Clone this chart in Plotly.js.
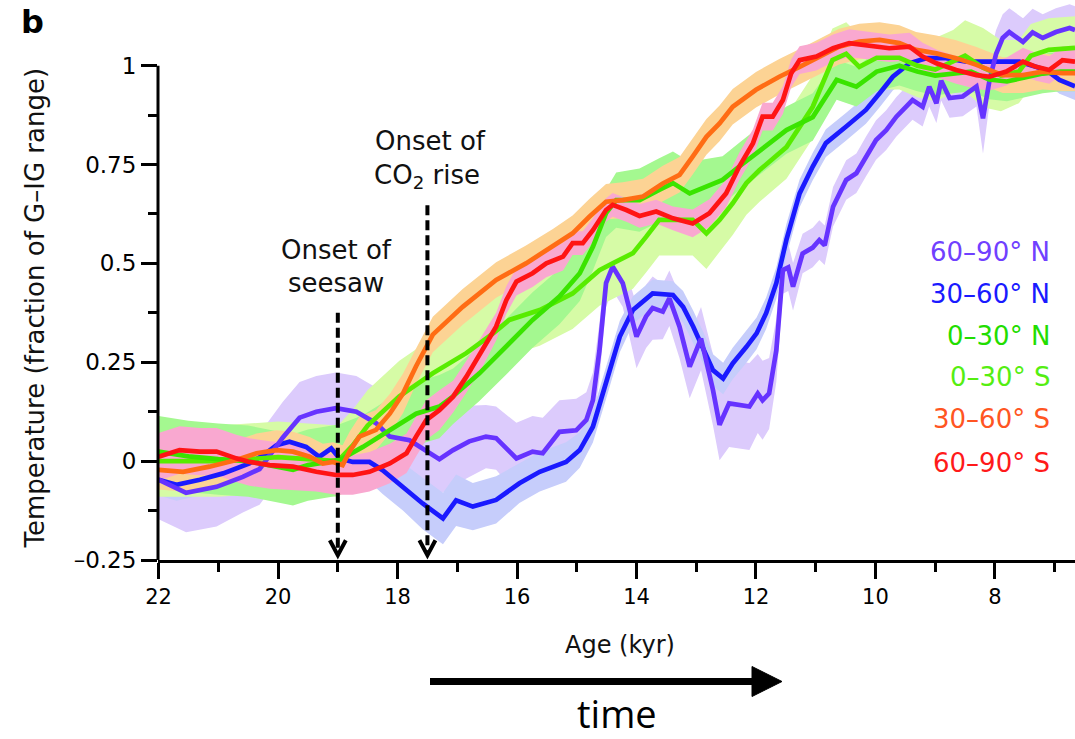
<!DOCTYPE html>
<html><head><meta charset="utf-8">
<script src="https://cdn.plot.ly/plotly-3.0.1.min.js"></script>
<style>html,body{margin:0;padding:0;background:#fff;}#chart{width:1075px;height:739px;}</style>
</head><body><div id="chart"></div>
<script>
// ---------- data ----------
const seriesNames = ['60–90° N','30–60° N','0–30° N','0–30° S','30–60° S','60–90° S'];

// 60–90° N
const n6090Age = [22.0,21.54,21.03,20.59,20.31,19.92,19.64,19.36,19.03,18.69,
  18.36,18.13,17.80,17.52,17.30,17.07,16.80,16.52,16.35,16.01,
  15.74,15.57,15.29,15.01,14.84,14.73,14.62,14.51,14.40,14.23,
  14.00,13.84,13.73,13.56,13.45,13.28,13.11,12.92,12.72,12.61,
  12.45,12.11,11.97,11.89,11.78,11.66,11.55,11.46,11.38,11.22,
  11.05,10.94,10.85,10.71,10.49,10.32,10.16,9.99,9.82,9.65,
  9.49,9.38,9.21,9.10,8.98,8.90,8.76,8.54,8.31,8.20,
  8.09,7.98,7.87,7.76,7.53,7.37,7.20,6.98,6.75,6.66];
const n6090Temp = [-0.047,-0.08,-0.065,-0.04,-0.02,0.06,0.11,0.125,0.134,0.125,
  0.096,0.062,0.053,0.028,0.005,0.028,0.05,0.062,0.058,0.007,
  0.024,0.02,0.074,0.078,0.104,0.154,0.28,0.45,0.492,0.45,
  0.315,0.366,0.387,0.378,0.412,0.34,0.239,0.31,0.18,0.092,
  0.146,0.138,0.171,0.154,0.171,0.28,0.483,0.49,0.441,0.525,
  0.54,0.559,0.546,0.643,0.711,0.728,0.77,0.812,0.837,0.871,
  0.896,0.913,0.896,0.947,0.905,0.962,0.918,0.922,0.947,0.867,
  0.964,1.03,1.07,1.085,1.06,1.084,1.07,1.085,1.095,1.09];
const n6090Err = [0.10,0.10,0.10,0.09,0.09,0.09,0.09,0.09,0.09,0.09,
  0.09,0.09,0.09,0.09,0.09,0.09,0.09,0.08,0.08,0.09,
  0.09,0.09,0.08,0.08,0.07,0.07,0.07,0.06,0.06,0.06,
  0.08,0.08,0.08,0.07,0.07,0.08,0.08,0.08,0.09,0.09,
  0.11,0.11,0.10,0.10,0.09,0.08,0.06,0.06,0.06,0.05,
  0.05,0.05,0.05,0.05,0.05,0.05,0.05,0.05,0.05,0.05,
  0.05,0.05,0.05,0.05,0.05,0.05,0.05,0.05,0.05,0.09,
  0.06,0.06,0.06,0.06,0.06,0.06,0.06,0.06,0.06,0.06];

// 30–60° N
const n3060Age = [22.0,21.70,21.31,20.92,20.48,20.20,20.03,19.81,19.53,19.31,
  19.11,18.97,18.75,18.47,18.25,17.91,17.58,17.24,17.02,16.74,
  16.35,15.96,15.62,15.18,14.95,14.73,14.51,14.28,14.06,13.73,
  13.39,13.22,13.05,12.89,12.72,12.55,12.39,12.16,11.99,11.83,
  11.66,11.49,11.27,11.05,10.83,10.49,10.16,9.93,9.71,9.43,
  9.15,8.82,8.48,8.09,7.59,7.14,6.92,6.66];
const n3060Temp = [-0.047,-0.06,-0.047,-0.031,-0.006,0.02,0.04,0.049,0.036,0.011,
  0.032,0.007,-0.002,-0.002,-0.023,-0.065,-0.107,-0.145,-0.099,-0.115,
  -0.098,-0.056,-0.027,-0.002,0.028,0.087,0.197,0.315,0.382,0.424,
  0.42,0.39,0.34,0.289,0.23,0.209,0.247,0.289,0.323,0.374,
  0.45,0.56,0.677,0.745,0.804,0.846,0.888,0.93,0.972,1.006,
  1.019,1.019,1.01,1.01,1.01,0.989,0.964,0.948];
const n3060Err = [0.04,0.04,0.04,0.04,0.04,0.04,0.04,0.04,0.04,0.04,
  0.04,0.04,0.05,0.05,0.06,0.06,0.065,0.065,0.065,0.06,
  0.06,0.05,0.05,0.05,0.045,0.04,0.04,0.04,0.035,0.035,
  0.035,0.04,0.04,0.04,0.04,0.04,0.04,0.04,0.04,0.04,
  0.04,0.04,0.035,0.035,0.035,0.035,0.035,0.035,0.035,0.035,
  0.035,0.035,0.035,0.035,0.035,0.035,0.035,0.035];

// 0–30° N
const n0030Age = [22.0,21.5,21.0,20.5,20.0,19.75,19.5,19.25,18.97,18.58,
  18.13,17.69,17.30,17.07,16.63,16.18,15.74,15.29,14.95,14.73,
  14.51,14.34,13.95,13.62,13.39,13.11,12.83,12.56,12.28,11.99,
  11.49,11.05,10.65,10.32,9.98,9.6,9.3,9.0,8.7,8.4,
  8.1,7.8,7.5,7.2,6.9,6.66];
const n0030Temp = [0.024,0.012,0.005,0.0,-0.015,-0.022,-0.01,-0.003,0.003,0.036,
  0.079,0.12,0.138,0.164,0.222,0.289,0.357,0.416,0.475,0.542,
  0.627,0.66,0.66,0.686,0.703,0.677,0.694,0.711,0.745,0.78,
  0.837,0.87,0.964,0.947,0.985,1.0,0.985,0.975,0.98,0.985,
  0.965,0.96,0.97,0.98,0.985,0.985];
const n0030Err = [0.09,0.09,0.09,0.09,0.09,0.09,0.09,0.09,0.09,0.08,
  0.08,0.08,0.08,0.07,0.07,0.07,0.07,0.07,0.07,0.06,
  0.06,0.07,0.08,0.08,0.08,0.08,0.07,0.06,0.06,0.06,
  0.06,0.06,0.05,0.05,0.05,0.05,0.05,0.05,0.05,0.05,
  0.05,0.05,0.05,0.05,0.05,0.05];

// 0–30° S
const s0030Age = [22.0,21.5,21.0,20.5,20.0,19.5,19.0,18.75,18.5,17.97,
  17.41,16.85,16.40,16.13,15.62,15.07,14.62,14.40,14.06,13.84,
  13.62,13.06,12.83,12.61,12.39,12.16,11.94,11.49,11.05,10.72,
  10.49,10.27,9.98,9.6,9.3,9.0,8.7,8.5,8.2,7.9,
  7.6,7.4,7.1,6.66];
const s0030Temp = [0.0,0.0,0.0,0.005,0.01,0.005,0.0,0.04,0.09,0.164,
  0.222,0.273,0.323,0.357,0.382,0.424,0.483,0.5,0.526,0.567,
  0.61,0.61,0.576,0.61,0.652,0.703,0.736,0.794,0.896,1.014,
  1.03,0.997,1.02,1.02,1.0,0.99,1.01,1.025,0.995,0.975,
  0.985,1.025,1.04,1.045];
const s0030Err = [0.09,0.09,0.09,0.09,0.09,0.09,0.09,0.09,0.09,0.09,
  0.09,0.09,0.09,0.09,0.09,0.09,0.09,0.09,0.09,0.09,
  0.09,0.09,0.09,0.08,0.08,0.08,0.08,0.08,0.08,0.08,
  0.08,0.08,0.08,0.08,0.08,0.08,0.08,0.09,0.10,0.09,
  0.08,0.08,0.08,0.08];

// 30–60° S
const s3060Age = [22.0,21.59,21.15,20.70,20.36,20.03,19.75,19.47,19.25,19.08,
  18.92,18.80,18.64,18.36,18.13,17.91,17.69,17.41,16.91,16.35,
  15.85,15.40,15.07,14.79,14.51,14.23,13.89,13.56,13.28,13.06,
  12.83,12.61,12.39,12.00,11.61,11.27,10.94,10.61,10.27,9.93,
  9.60,9.32,8.98,8.65,8.31,8.09,7.87,7.53,7.20,6.87,
  6.66];
const s3060Temp = [-0.022,-0.027,-0.014,0.003,0.02,0.028,0.024,0.011,-0.006,-0.002,
  -0.01,0.025,0.062,0.079,0.12,0.171,0.24,0.32,0.39,0.458,
  0.5,0.542,0.576,0.618,0.656,0.66,0.669,0.702,0.724,0.77,
  0.82,0.854,0.896,0.939,0.972,0.997,1.023,1.048,1.061,1.065,
  1.057,1.04,1.031,1.019,1.002,0.989,0.976,0.976,0.985,0.981,
  0.981];
const s3060Err = [0.05,0.05,0.05,0.05,0.05,0.05,0.05,0.05,0.05,0.05,
  0.05,0.05,0.05,0.05,0.05,0.05,0.045,0.045,0.045,0.045,
  0.045,0.045,0.045,0.045,0.045,0.045,0.045,0.045,0.045,0.045,
  0.045,0.045,0.045,0.045,0.045,0.045,0.045,0.045,0.045,0.045,
  0.045,0.045,0.045,0.045,0.045,0.045,0.045,0.045,0.045,0.045,
  0.045];

// 60–90° S
const s6090Age = [22.0,21.65,21.31,21.03,20.70,20.48,20.14,19.75,19.36,19.03,
  18.75,18.47,18.13,17.85,17.69,17.52,17.30,17.07,16.85,16.57,
  16.35,16.18,16.01,15.74,15.51,15.23,15.07,14.90,14.73,14.51,
  14.40,14.17,13.95,13.67,13.39,13.06,12.78,12.50,12.28,12.05,
  11.89,11.72,11.55,11.41,11.27,10.99,10.71,10.44,10.16,9.77,
  9.43,9.21,8.98,8.65,8.31,8.09,7.81,7.53,7.31,7.09,
  6.87,6.66];
const s6090Temp = [0.011,0.028,0.024,0.024,0.007,-0.002,-0.01,-0.014,-0.027,-0.035,
  -0.035,-0.027,-0.006,0.02,0.062,0.104,0.129,0.163,0.213,0.281,
  0.34,0.407,0.454,0.475,0.5,0.517,0.551,0.551,0.584,0.635,
  0.648,0.635,0.62,0.631,0.614,0.601,0.627,0.677,0.745,0.804,
  0.871,0.871,0.913,0.981,1.014,1.023,1.044,1.057,1.052,1.044,
  1.048,1.023,1.006,0.989,0.976,0.972,0.985,1.01,0.997,0.989,
  1.014,1.01];
const s6090Err = [0.06,0.06,0.06,0.06,0.06,0.06,0.06,0.06,0.05,0.05,
  0.05,0.05,0.05,0.05,0.05,0.05,0.05,0.04,0.04,0.04,
  0.035,0.035,0.035,0.035,0.035,0.035,0.03,0.03,0.03,0.03,
  0.03,0.03,0.03,0.03,0.03,0.035,0.035,0.035,0.035,0.035,
  0.035,0.035,0.035,0.035,0.035,0.035,0.035,0.035,0.035,0.035,
  0.035,0.035,0.035,0.035,0.035,0.035,0.035,0.035,0.035,0.035,
  0.035,0.035];

// axis ticks / event markers
const xMajorTicks = [22,20,18,16,14,12,10,8];
const xMinorTicks = [21,19,17,15,13,11,9,7];
const yMajorTicks = [-0.25,0,0.25,0.5,0.75,1];
const yTickText = ['–0.25','0','0.25','0.5','0.75','1'];
const yMinorTicks = [-0.125,0.125,0.375,0.625,0.875];
const eventAges = [19, 17.5];            // onset of seesaw, onset of CO2 rise
const eventTop = [0.375, 0.647];

// ---------- styles ----------
const FONT = 'DejaVu Sans, Arial, sans-serif';
const xRange = [22.01, 6.66];
const yRange = [-0.25, 1.166];
const plotW = 917, plotH = 560;

const series = [
  {name: seriesNames[0], age: n6090Age, t: n6090Temp, e: n6090Err, line: '#6633ff', band: '#dccbfc', text: '#7040ff'},
  {name: seriesNames[1], age: n3060Age, t: n3060Temp, e: n3060Err, line: '#1a1aff', band: '#c6cdfb', text: '#1a1aff'},
  {name: seriesNames[2], age: n0030Age, t: n0030Temp, e: n0030Err, line: '#3ae400', band: '#a4f890', text: '#22dd00'},
  {name: seriesNames[3], age: s0030Age, t: s0030Temp, e: s0030Err, line: '#58ec00', band: '#d6fba6', text: '#55ee11'},
  {name: seriesNames[4], age: s3060Age, t: s3060Temp, e: s3060Err, line: '#ff6c14', band: '#fcd394', text: '#ff5522'},
  {name: seriesNames[5], age: s6090Age, t: s6090Temp, e: s6090Err, line: '#ff1414', band: '#f9a8d0', text: '#ff1a1a'}
];

const bandOrder = [0, 1, 3, 2, 4, 5];
const lineOrder = [1, 0, 3, 2, 4, 5];
const traces = [];
bandOrder.forEach(i => {
  const s = series[i];
  const up = s.t.map((v, k) => v + s.e[k]);
  const lo = s.t.map((v, k) => v - s.e[k]);
  traces.push({
    x: s.age.concat(s.age.slice().reverse()),
    y: up.concat(lo.slice().reverse()),
    mode: 'lines', fill: 'toself', fillcolor: s.band,
    line: {width: 0, color: s.band}, hoverinfo: 'skip', showlegend: false
  });
});
lineOrder.forEach(i => {
  const s = series[i];
  traces.push({
    x: s.age, y: s.t, mode: 'lines', name: s.name,
    line: {color: s.line, width: 4.7}, showlegend: false
  });
});

// ---------- annotations / shapes ----------
const px2paperX = px => (px - 158) / plotW;
const px2paperY = py => (plotH - py) / plotH;
const kyrPerPx = (xRange[0] - xRange[1]) / plotW;
const yPerPx = (yRange[1] - yRange[0]) / plotH;

const legendY = [252.5, 294, 336, 377, 419, 463];
const annotations = series.map((s, i) => ({
  text: s.name, xref: 'paper', yref: 'paper', x: px2paperX(1052), y: px2paperY(legendY[i]),
  xanchor: 'right', yanchor: 'middle', showarrow: false,
  font: {family: FONT, size: 26, color: s.text}
}));
const txt = (text, px, py, size, extra) => Object.assign({
  text, xref: 'paper', yref: 'paper', x: px2paperX(px), y: px2paperY(py),
  xanchor: 'center', yanchor: 'middle', showarrow: false,
  font: {family: FONT, size, color: '#111'}
}, extra || {});
annotations.push(txt('Onset of', 336.5, 250, 26));
annotations.push(txt('seesaw', 336, 283, 26));
annotations.push(txt('Onset of', 430, 140.5, 26));
annotations.push(txt('CO<sub>2</sub> rise', 427, 176, 26));
annotations.push(txt('Temperature (fraction of G–IG range)', 35, 308.5, 26, {textangle: -90}));
annotations.push(txt('Age (kyr)', 620, 645, 24));
annotations.push(txt('time', 617, 713, 38, {font: {family: 'Open Sans, sans-serif', size: 38, color: '#000'}}));
annotations.push(txt('<b>b</b>', 32, 22, 32, {font: {family: FONT, size: 32, color: '#000'}}));

const shapes = [];
// y axis line only from -0.25 to 1
const yTopPaper = (1 - yRange[0]) / (yRange[1] - yRange[0]);
shapes.push({type: 'line', xref: 'paper', yref: 'paper', x0: 0, x1: 0, y0: 0, y1: yTopPaper,
  line: {color: '#000', width: 3}, layer: 'above'});
// event dashed arrows
const tipY = -0.238;
eventAges.forEach((a, i) => {
  shapes.push({type: 'line', xref: 'x', yref: 'y', x0: a, x1: a, y0: eventTop[i], y1: tipY + 4 * yPerPx,
    line: {color: '#000', width: 4, dash: '10px,5px'}, layer: 'above'});
  const dx = 8 * kyrPerPx, dy = 15 * yPerPx;
  shapes.push({type: 'path', xref: 'x', yref: 'y',
    path: `M ${a - dx},${tipY + dy} L ${a},${tipY} L ${a + dx},${tipY + dy}`,
    line: {color: '#000', width: 4}, layer: 'above'});
});
// time arrow
shapes.push({type: 'line', xref: 'paper', yref: 'paper', x0: px2paperX(430), x1: px2paperX(756),
  y0: px2paperY(681.5), y1: px2paperY(681.5), line: {color: '#000', width: 7}});
shapes.push({type: 'path', xref: 'paper', yref: 'paper',
  path: `M ${px2paperX(752)},${px2paperY(666.5)} L ${px2paperX(782)},${px2paperY(681.5)} L ${px2paperX(752)},${px2paperY(696.5)} Z`,
  fillcolor: '#000', line: {color: '#000', width: 1}});

const layout = {
  width: 1075, height: 739,
  margin: {l: 158, r: 0, t: 0, b: 179, pad: 0},
  paper_bgcolor: '#fff', plot_bgcolor: '#fff',
  showlegend: false,
  xaxis: {
    range: xRange, autorange: false,
    tickmode: 'array', tickvals: xMajorTicks,
    ticks: 'outside', ticklen: 16, tickwidth: 3, tickcolor: '#000',
    minor: {tickmode: 'array', tickvals: xMinorTicks, ticks: 'outside', ticklen: 9, tickwidth: 3, tickcolor: '#000', showgrid: false},
    showline: true, linewidth: 3, linecolor: '#000',
    showgrid: false, zeroline: false,
    tickfont: {family: FONT, size: 21, color: '#000'}
  },
  yaxis: {
    range: yRange, autorange: false,
    tickmode: 'array', tickvals: yMajorTicks, ticktext: yTickText,
    ticks: 'outside', ticklen: 16, tickwidth: 3, tickcolor: '#000',
    minor: {tickmode: 'array', tickvals: yMinorTicks, ticks: 'outside', ticklen: 9, tickwidth: 3, tickcolor: '#000', showgrid: false},
    showline: false, showgrid: false, zeroline: false,
    tickfont: {family: FONT, size: 23, color: '#000'}
  },
  annotations, shapes
};

Plotly.newPlot('chart', traces, layout, {displayModeBar: false, staticPlot: true});
</script></body></html>
